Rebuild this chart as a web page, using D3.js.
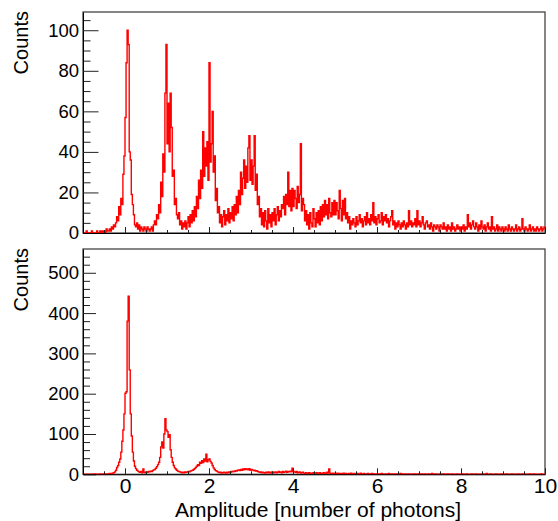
<!DOCTYPE html>
<html>
<head>
<meta charset="utf-8">
<script src="https://cdn.jsdelivr.net/npm/d3@7"></script>
<style>
  body { margin: 0; background: #fff; }
  svg { display: block; }
  text { font-family: "Liberation Sans", Arial, Helvetica, sans-serif; fill: #000; }
</style>
</head>
<body>
<div id="chart"></div>
<script>
// histogram binning (both panels): 440 bins of 0.025 from -1 to 10
const BIN_START = -1;
const BIN_WIDTH = 0.025;

// upper panel counts, one line per unit of amplitude
const topCounts = [
  0,0,0,1,0,0,0,0,1,0, 0,0,0,1,0,0,1,0,1,0, 1,0,2,1,1,2,1,3,2,4, 3,5,8,6,13,9,17,14,29,38,
  57,84,100,93,40,36,19,14,9,4, 3,5,2,4,1,3,2,1,3,2, 1,3,2,1,2,3,1,4,6,4, 9,7,14,10,25,18,39,30,69,93,
  44,64,40,69,52,28,31,14,17,9, 7,10,4,6,2,5,3,6,2,5, 8,3,9,5,11,6,13,8,18,12, 26,17,31,22,50,28,42,33,45,26,
  84,35,44,60,30,38,16,22,10,13, 5,9,3,8,11,4,9,6,12,5, 10,7,13,6,14,9,18,10,21,14, 30,19,27,36,22,33,25,42,48,26,
  36,24,33,48,21,29,14,18,8,12, 4,10,3,11,6,2,12,5,9,3, 10,6,12,4,9,13,6,11,8,14, 12,18,9,19,14,30,13,21,11,22,
  13,21,17,12,23,15,19,44,11,17, 14,6,11,4,9,2,10,5,3,12, 7,3,10,5,11,4,13,6,14,8, 16,9,14,7,17,10,8,15,9,16,
  9,15,11,7,21,12,6,16,9,17, 7,10,5,8,2,6,4,7,5,3, 8,4,6,9,5,7,3,6,8,4, 10,5,7,4,9,6,15,5,8,4,
  7,9,5,6,10,4,8,6,9,5, 7,3,6,8,11,4,6,2,5,3, 6,4,2,5,3,6,4,2,5,3, 11,4,6,3,5,4,7,3,11,4,
  6,3,5,8,4,2,5,6,3,4, 2,5,3,1,4,3,2,4,3,1, 4,3,2,5,2,3,1,4,2,3, 1,5,2,3,1,2,4,2,3,1,
  3,2,4,1,3,2,9,3,5,2, 4,6,3,2,5,3,1,4,2,6, 3,2,4,1,3,5,2,3,1,8, 2,3,1,2,4,1,3,2,1,3,
  2,1,3,2,1,4,2,1,3,2, 1,2,4,1,2,3,1,2,7,2, 1,3,2,1,2,4,1,2,3,1, 2,1,3,2,1,2,3,1,2,3
];

// lower panel counts
const bottomCounts = [
  0,0,0,0,0,0,0,0,0,0, 0,1,0,0,0,0,1,0,0,1, 0,1,0,1,1,2,1,2,3,4, 6,10,17,22,30,38,55,82,110,150,
  201,205,380,442,259,150,95,55,33,20, 14,10,8,6,5,7,4,13,5,4, 6,5,7,6,8,7,9,11,12,15, 19,24,30,42,68,80,65,100,138,110,
  106,92,98,61,42,30,22,16,13,10, 8,7,6,5,4,5,4,6,5,6, 7,6,8,9,10,12,14,17,20,24, 22,30,27,34,29,38,33,50,31,36,
  38,32,28,22,16,12,9,8,6,5, 4,5,3,4,5,4,3,5,4,6, 5,7,6,8,7,9,8,10,11,9, 12,10,13,11,14,12,13,11,14,10,
  12,11,9,10,8,9,7,6,5,6, 4,5,4,3,5,4,6,4,5,3, 6,4,5,6,4,5,7,5,6,4, 7,5,6,8,5,7,6,8,6,15,
  7,6,5,7,4,5,6,3,4,5, 3,2,4,3,2,4,3,2,3,4, 2,3,4,2,3,4,2,3,2,4, 3,2,5,3,13,3,2,1,3,2,
  2,1,3,2,1,2,0,2,3,1, 2,1,0,2,1,3,1,0,2,1, 1,2,0,1,3,1,0,2,1,1, 0,2,1,0,1,2,0,1,1,0,
  1,0,1,0,2,1,0,0,1,0, 1,2,0,0,1,0,0,1,0,1, 0,0,2,0,1,0,0,1,0,0, 1,0,0,0,1,0,1,0,0,1,
  0,0,1,0,0,1,0,0,0,1, 0,0,2,0,0,1,0,0,0,0, 1,0,0,1,0,0,0,1,0,0, 0,1,0,0,0,0,1,0,0,0,
  0,1,0,0,0,1,0,0,0,0, 1,0,0,0,1,0,0,0,0,0, 1,0,0,0,2,0,0,0,1,0, 0,0,0,1,0,0,0,0,1,0,
  0,0,0,1,0,0,0,0,1,0, 0,0,0,0,1,0,0,0,1,0, 0,0,0,0,0,1,0,0,0,1, 0,0,0,0,0,0,1,0,0,0
];

const xDomain = [-1, 10];
const xTicks = [0, 2, 4, 6, 8, 10];
const topYTicks = [0, 20, 40, 60, 80, 100];
const bottomYTicks = [0, 100, 200, 300, 400, 500];

const xTitle = 'Amplitude [number of photons]';
const yTitle = 'Counts';

const W = 558, H = 521;
const left = 83, right = 545;

const svg = d3.select('#chart').append('svg')
  .attr('width', W)
  .attr('height', H);

const x = d3.scaleLinear().domain(xDomain).range([left, right]);

function drawPanel(p) {
  const y = d3.scaleLinear().domain([0, p.yMax]).range([p.bottom, p.top]);
  const g = svg.append('g');

  // frame
  g.append('rect')
    .attr('x', left).attr('y', p.top)
    .attr('width', right - left).attr('height', p.bottom - p.top)
    .attr('fill', 'none')
    .attr('stroke', '#444')
    .attr('stroke-width', 1.3);

  // histogram as a step line
  const pts = p.counts.map((c, i) => [BIN_START + i * BIN_WIDTH, c]);
  pts.push([BIN_START + p.counts.length * BIN_WIDTH, p.counts[p.counts.length - 1]]);
  const line = d3.line()
    .x(d => x(d[0]))
    .y(d => y(d[1]))
    .curve(d3.curveStepAfter);
  g.append('path')
    .attr('d', line(pts))
    .attr('fill', 'none')
    .attr('stroke', '#ff0000')
    .attr('stroke-width', 1.4);

  // y axis: major ticks with labels, minor ticks without
  const yMinor = d3.range(0, p.yMax, p.yMinorStep).filter(v => !p.yTicks.includes(v));
  g.append('g')
    .attr('transform', `translate(${left},0)`)
    .call(d3.axisLeft(y).tickValues(yMinor).tickSize(-p.yMinorLen).tickFormat(''))
    .call(a => a.select('.domain').remove())
    .call(a => a.selectAll('line').attr('stroke', '#222'));
  g.append('g')
    .attr('transform', `translate(${left},0)`)
    .call(d3.axisLeft(y).tickValues(p.yTicks).tickSize(-p.yMajorLen).tickSizeOuter(0).tickPadding(4))
    .call(a => a.select('.domain').attr('stroke', '#000'))
    .call(a => a.selectAll('line').attr('stroke', '#222'))
    .call(a => a.selectAll('text')
      .attr('font-size', 18.5)
      .attr('font-family', '"Liberation Sans", Arial, sans-serif')
      .attr('fill', '#000'));

  // x axis
  const xMinor = d3.range(-0.5, 10, 0.5).filter(v => !xTicks.includes(v));
  g.append('g')
    .attr('transform', `translate(0,${p.bottom})`)
    .call(d3.axisBottom(x).tickValues(xMinor).tickSize(-3).tickFormat(''))
    .call(a => a.select('.domain').remove())
    .call(a => a.selectAll('line').attr('stroke', '#222'));
  g.append('g')
    .attr('transform', `translate(0,${p.bottom})`)
    .call(d3.axisBottom(x).tickValues(xTicks).tickSize(-6).tickSizeOuter(0).tickPadding(4)
      .tickFormat(p.xLabels ? d3.format('d') : ''))
    .call(a => a.select('.domain').attr('stroke', '#000'))
    .call(a => a.selectAll('line').attr('stroke', '#222'))
    .call(a => a.selectAll('text')
      .attr('font-size', 21)
      .attr('font-family', '"Liberation Sans", Arial, sans-serif')
      .attr('fill', '#000'));

  // y title
  g.append('text')
    .attr('transform', `translate(28,${p.top - 1}) rotate(-90)`)
    .attr('text-anchor', 'end')
    .attr('font-size', 20)
    .text(yTitle);
}

drawPanel({
  counts: topCounts, top: 12, bottom: 233, yMax: 109,
  yTicks: topYTicks, yMinorStep: 5, yMajorLen: 15.5, yMinorLen: 7.5, xLabels: false
});

drawPanel({
  counts: bottomCounts, top: 249, bottom: 474.3, yMax: 559,
  yTicks: bottomYTicks, yMinorStep: 20, yMajorLen: 13, yMinorLen: 7, xLabels: true
});

svg.append('text')
  .attr('x', 318)
  .attr('y', 516.5)
  .attr('text-anchor', 'middle')
  .attr('font-size', 21)
  .text(xTitle);
</script>
</body>
</html>
